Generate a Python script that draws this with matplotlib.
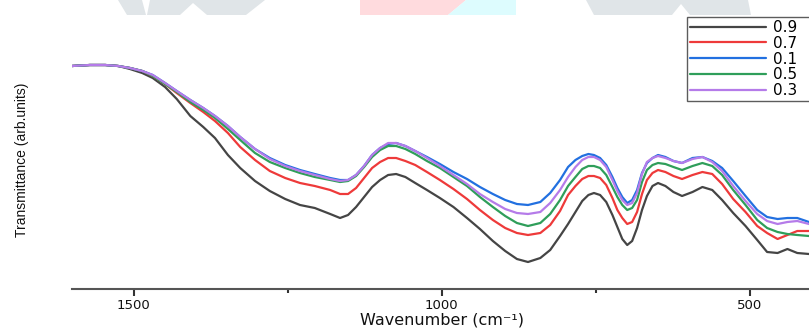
import matplotlib
matplotlib.use("Agg")
import matplotlib.pyplot as plt
from matplotlib.patches import Polygon
from matplotlib.ticker import FixedLocator

# ---- data ----
wavenumber = [1600, 1571, 1546, 1525, 1506, 1486, 1469, 1449, 1430, 1408,
              1387, 1368, 1347, 1327, 1303, 1279, 1254, 1230, 1206, 1181,
              1165, 1152, 1139, 1126, 1113, 1100, 1087, 1074, 1059, 1043,
              1024, 1003, 981, 959, 938, 917, 897, 878, 860, 840,
              824, 808, 795, 783, 772, 762, 753, 743, 733, 723,
              715, 707, 699, 691, 683, 675, 667, 658, 649, 637,
              624, 610, 593, 577, 561, 545, 527, 507, 488, 472,
              455, 439, 423, 404]

t_09 = [223, 224, 224, 223, 220, 216, 211, 202, 190, 173,
        162, 151, 134, 121, 108, 98, 90, 84, 81, 75,
        71, 74, 82, 92, 102, 109, 114, 115, 112, 106,
        99, 91, 82, 71, 60, 48, 38, 30, 27, 31,
        39, 53, 65, 77, 88, 94, 96, 94, 87, 74,
        62, 50, 44, 48, 61, 79, 93, 103, 106, 103,
        97, 93, 97, 102, 99, 89, 76, 63, 49, 37,
        36, 40, 36, 35]
t_07 = [223, 224, 224, 223, 221, 218, 213, 205, 196, 186,
        177, 168, 156, 142, 129, 118, 111, 106, 103, 99,
        95, 95, 101, 111, 121, 127, 131, 131, 128, 124,
        117, 109, 100, 90, 79, 69, 61, 56, 54, 56,
        64, 78, 94, 103, 110, 113, 113, 111, 104, 91,
        79, 71, 65, 67, 77, 95, 109, 116, 119, 117,
        113, 110, 114, 117, 115, 105, 90, 77, 63, 56,
        50, 54, 58, 58]
t_01 = [223, 224, 224, 223, 221, 218, 214, 206, 198, 189,
        181, 173, 163, 152, 140, 131, 124, 119, 115, 111,
        109, 109, 114, 123, 134, 141, 145, 146, 143, 138,
        132, 125, 117, 110, 102, 95, 89, 85, 84, 87,
        96, 109, 122, 129, 133, 135, 134, 131, 124, 112,
        101, 92, 86, 89, 99, 116, 126, 131, 134, 132,
        128, 126, 131, 132, 128, 121, 108, 93, 79, 72,
        70, 71, 71, 67]
t_05 = [223, 224, 224, 223, 221, 218, 213, 205, 197, 187,
        179, 171, 160, 149, 136, 127, 121, 116, 112, 109,
        107, 108, 113, 122, 132, 139, 143, 143, 140, 135,
        128, 121, 112, 103, 92, 82, 73, 66, 63, 66,
        75, 89, 103, 112, 120, 123, 123, 121, 114, 102,
        92, 84, 79, 81, 89, 107, 119, 124, 126, 125,
        122, 119, 123, 126, 123, 114, 99, 84, 69, 61,
        57, 55, 54, 53]
t_03 = [223, 224, 224, 223, 221, 218, 214, 206, 198, 189,
        181, 173, 163, 152, 140, 130, 123, 118, 114, 110,
        108, 109, 114, 123, 134, 141, 146, 146, 143, 138,
        131, 123, 114, 105, 95, 87, 80, 76, 75, 77,
        86, 99, 112, 122, 129, 132, 132, 129, 122, 109,
        98, 89, 84, 86, 96, 115, 127, 131, 133, 131,
        128, 126, 130, 132, 127, 118, 103, 88, 75, 68,
        65, 67, 68, 65]

labels = ["0.9", "0.7", "0.1", "0.5", "0.3"]
series = [t_09, t_07, t_01, t_05, t_03]
colors = ["#454545", "#ee3a3a", "#2270e0", "#2f9e5a", "#b57be9"]

major_ticks = [1500, 1000, 500]
minor_ticks = [1250, 750]

W, H = 809, 329
fig = plt.figure(figsize=(W / 100, H / 100), dpi=100)

# faint watermark shapes at the top
def px(pts):
    return [(x / W, 1 - y / H) for x, y in pts]

wm = [
    ([(118, 0), (142, 0), (146, 15), (127, 15)], "#e0e5e8"),
    ([(150, 0), (265, 0), (246, 15), (207, 15), (193, 3), (180, 15), (147, 15)], "#e0e5e8"),
    ([(360, 0), (466, 0), (448, 15), (360, 15)], "#ffdbde"),
    ([(466, 0), (516, 0), (516, 15), (448, 15)], "#ddfcfe"),
    ([(586, 0), (748, 0), (751, 15), (690, 15), (681, 4), (672, 15), (594, 15)], "#e0e5e8"),
]
for pts, c in wm:
    fig.patches.append(Polygon(px(pts), closed=True, transform=fig.transFigure,
                               facecolor=c, edgecolor="none", zorder=0))

ax = fig.add_axes([72 / W, 1 - 289 / H, 1 - 72 / W, (289 - 10) / H])
ax.set_facecolor("none")

for y, c, lab in zip(series, colors, labels):
    ax.plot(wavenumber, y, color=c, lw=1.6, label=lab,
            solid_joinstyle="round", solid_capstyle="round")

ax.set_xlim(1600, 404)
ax.set_ylim(0, 279)

for s in ["left", "right", "top"]:
    ax.spines[s].set_visible(False)
ax.spines["bottom"].set_color("#555555")
ax.spines["bottom"].set_linewidth(1.5)
ax.set_yticks([])
ax.xaxis.set_major_locator(FixedLocator(major_ticks))
ax.xaxis.set_minor_locator(FixedLocator(minor_ticks))
ax.tick_params(axis="x", which="major", length=5, width=1.5, color="#333333",
               labelsize=9.5, pad=2, labelcolor="#111111")
ax.tick_params(axis="x", which="minor", length=3, width=1.5, color="#333333")

fig.text(442 / W, 1 - 320 / H, "Wavenumber (cm\u207b\u00b9)", ha="center", va="center",
         fontsize=11.5, color="#111111")
fig.text(22 / W, 1 - 160 / H, "Transmittance (arb.units)", rotation=90,
         ha="center", va="center", fontsize=10,
         family=["Liberation Sans", "DejaVu Sans"], color="#111111")

leg = fig.legend(loc="upper left", bbox_to_anchor=(687 / W, 1 - 99 / H, 160 / W, 82 / H),
                 bbox_transform=fig.transFigure, mode="expand", frameon=True,
                 fancybox=False, edgecolor="#333333", fontsize=11, handlelength=5.0,
                 handletextpad=0.4, labelspacing=0.05, borderpad=0.2, borderaxespad=0)
leg.get_frame().set_linewidth(1.0)
for line in leg.get_lines():
    line.set_linewidth(1.6)

fig.savefig("out.png", dpi=100)
